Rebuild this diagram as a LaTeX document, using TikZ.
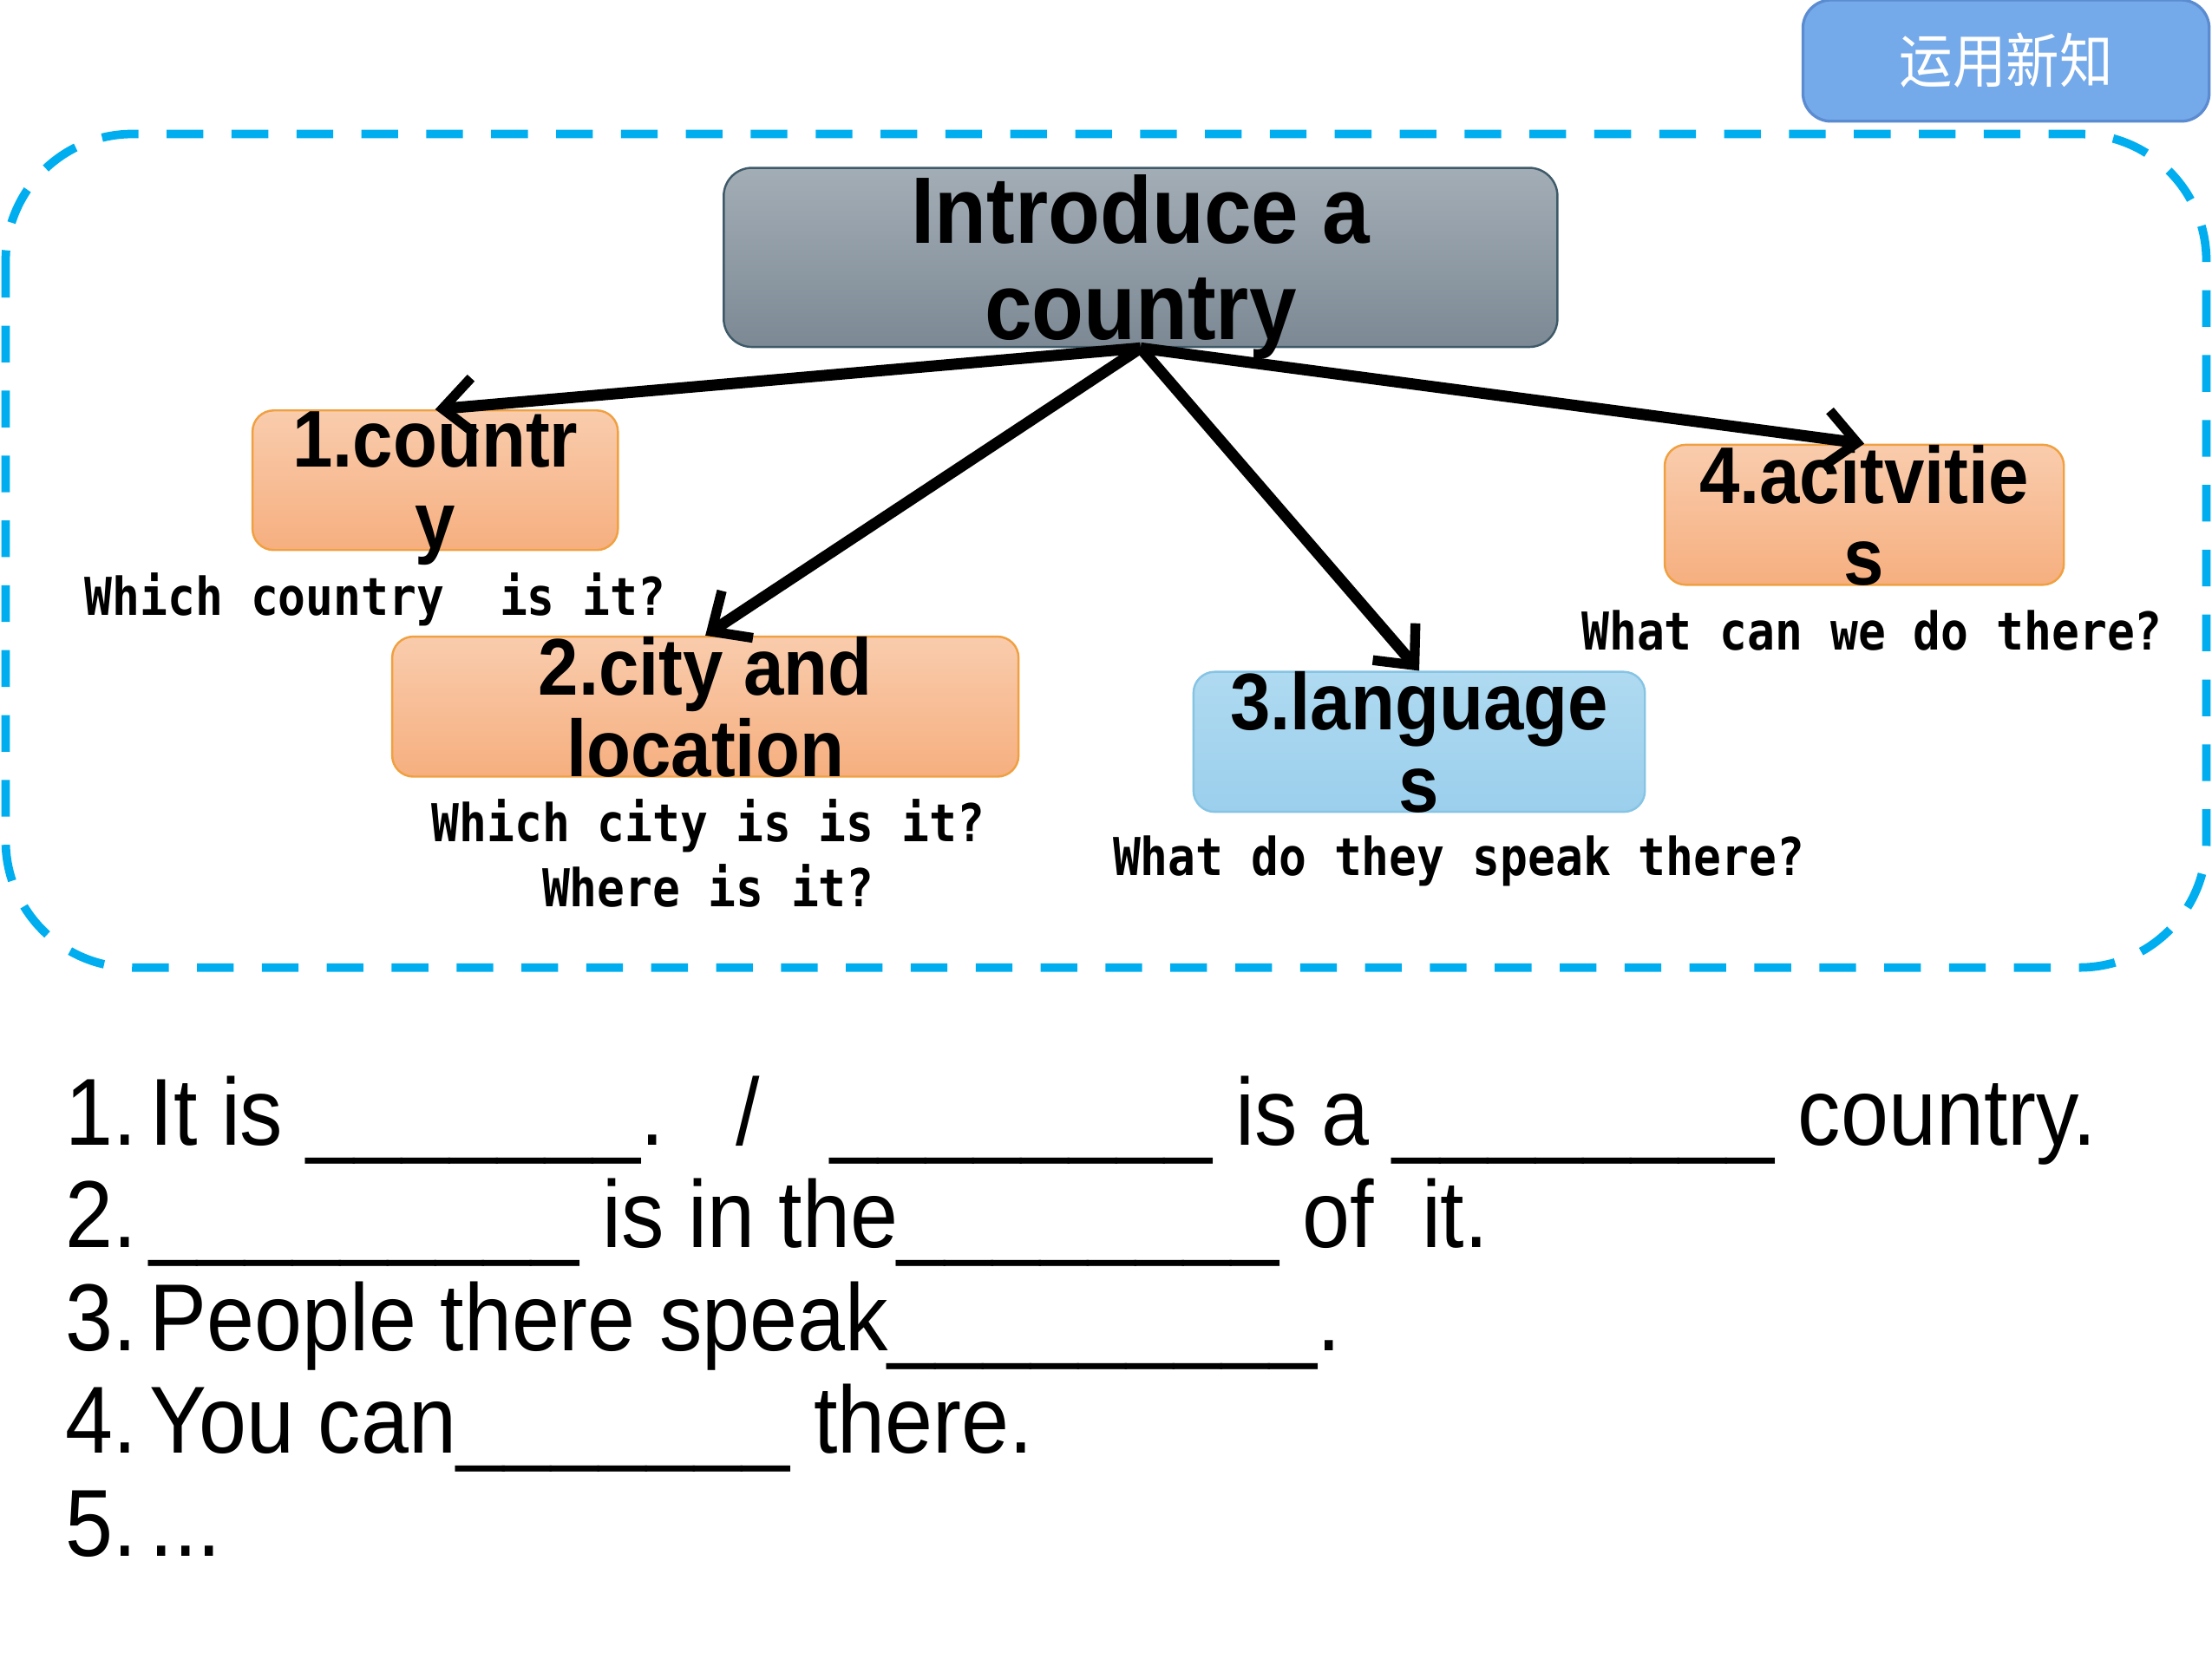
\documentclass[tikz,border=0pt]{standalone}
\usepackage{fontspec}
\usetikzlibrary{arrows.meta,positioning}

\newfontfamily\narrowsans[FakeStretch=0.9,BoldFont={Liberation Sans Bold}]{Liberation Sans}
\newfontfamily\questfont[FakeStretch=0.88,BoldFont={DejaVu Sans Mono Bold}]{DejaVu Sans Mono}
\newfontfamily\cjk[FakeStretch=0.9]{Noto Sans CJK SC}

\definecolor{framecyan}{HTML}{00AEEF}
\definecolor{tabfill}{HTML}{74A9EA}
\definecolor{tabline}{HTML}{5B8BD0}
\definecolor{slatetop}{HTML}{A3ADB6}
\definecolor{slatebot}{HTML}{7C8994}
\definecolor{slateline}{HTML}{3E5A68}
\definecolor{peachtop}{HTML}{F9CCAD}
\definecolor{peachbot}{HTML}{F6AF7F}
\definecolor{peachline}{HTML}{F0A040}
\definecolor{skytop}{HTML}{AFDAF1}
\definecolor{skybot}{HTML}{9BCFEC}
\definecolor{skyline}{HTML}{86C4E4}

\begin{document}
\begin{tikzpicture}[x=1pt,y=-1pt,
    frame/.style={draw=framecyan,line width=6pt,dash pattern=on 26pt off 20pt,rounded corners=90pt},
    tab/.style={draw=tabline,line width=2pt,fill=tabfill,rounded corners=20pt,
        minimum width=288pt,minimum height=86pt,text=white,font=\cjk\fontsize{42pt}{46pt}\selectfont},
    mainbox/.style={draw=slateline,line width=1.5pt,top color=slatetop,bottom color=slatebot,
        rounded corners=20pt,minimum width=591pt,minimum height=127pt,inner sep=0pt,
        align=center,text depth=0pt,font=\narrowsans\bfseries\fontsize{67pt}{68pt}\selectfont},
    topic/.style={draw=peachline,line width=1.5pt,top color=peachtop,bottom color=peachbot,
        rounded corners=15pt,minimum height=99pt,inner sep=0pt,
        align=center,text depth=0pt,font=\narrowsans\bfseries\fontsize{57pt}{58pt}\selectfont},
    bluetopic/.style={topic,draw=skyline,top color=skytop,bottom color=skybot},
    question/.style={anchor=base,inner sep=0pt,font=\questfont\bfseries\fontsize{37pt}{40pt}\selectfont},
    fillline/.style={anchor=base west,inner sep=0pt,font=\narrowsans\fontsize{67.5pt}{72pt}\selectfont},
    link/.style={line width=8pt,-{Straight Barb[length=22pt,width=40pt,line width=7pt]}}]
    \useasboundingbox (0,0) rectangle (1568,1176);

    \draw[frame] (4,95) rectangle (1564,686);
    \node[tab] (tag) at (1422,43) {运用新知};

    \node[mainbox]                          (intro)    at (808.5,182.5) {Introduce a\\country};
    \node[topic,minimum width=259pt]        (country)  at (308.5,340.5) {1.countr\\y};
    \node[topic,minimum width=444pt]        (city)     at (500,501)     {2.city and\\location};
    \node[bluetopic,minimum width=320pt]    (language) at (1006,526)    {3.language\\s};
    \node[topic,minimum width=283pt]        (activity) at (1321.5,365)  {4.acitvitie\\s};

    \node[question] (q1)  at (266,436)  {Which country\ \ is it?};
    \node[question] (q2a) at (502,597)  {Which city is is it?};
    \node[question,below=46pt of q2a.base,anchor=base] (q2b) {Where is it?};
    \node[question] (q3)  at (1034,621) {What do they speak there?};
    \node[question] (q4)  at (1327,461) {What can we do there?};

    \draw[link] (intro.south) -- (country.north);
    \draw[link] (intro.south) -- (city.north);
    \draw[link] (intro.south) -- (language.north);
    \draw[link] (intro.south) -- (activity.north);

    \node[fillline] (s1) at (46,812) {\makebox[60pt][l]{1.}It is \_\_\_\_\_\_\_.\ \ \ /\ \ \ \_\_\_\_\_\_\_\_ is a \_\_\_\_\_\_\_\_ country.};
    \node[fillline,below=72.8pt of s1.base west,anchor=base west] (s2) {\makebox[60pt][l]{2.}\_\_\_\_\_\_\_\_\_ is in the\_\_\_\_\_\_\_\_ of\ \ it.};
    \node[fillline,below=72.8pt of s2.base west,anchor=base west] (s3) {\makebox[60pt][l]{3.}People there speak\_\_\_\_\_\_\_\_\_.};
    \node[fillline,below=72.8pt of s3.base west,anchor=base west] (s4) {\makebox[60pt][l]{4.}You can\_\_\_\_\_\_\_ there.};
    \node[fillline,below=72.8pt of s4.base west,anchor=base west] (s5) {\makebox[60pt][l]{5.}...};
\end{tikzpicture}
\end{document}
